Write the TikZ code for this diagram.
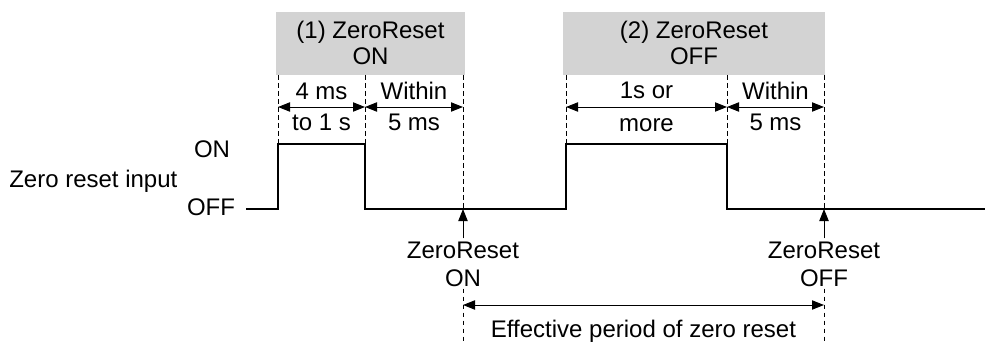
\documentclass[tikz,border=0pt]{standalone}
\usepackage{fontspec}
\setmainfont{Liberation Sans}
\usetikzlibrary{arrows.meta,positioning}
\definecolor{zonegray}{HTML}{D3D3D3}

\tikzset{
  guide/.style={black, line width=0.7pt, dash pattern=on 3.5pt off 2.5pt},
  signal/.style={black, line width=1.5pt, line join=miter},
  span/.style={black, line width=0.7pt,
    {Triangle[length=9pt,width=7pt]}-{Triangle[length=9pt,width=7pt]}},
  upmark/.style={black, line width=0.7pt, -{Triangle[length=9pt,width=7pt]}},
  lbl/.style={font=\fontsize{18}{21}\selectfont, inner sep=0pt, align=center},
  zonelbl/.style={lbl, font=\fontsize{18}{19.5}\selectfont},
}

\begin{document}
\begin{tikzpicture}[x=0.75pt, y=-0.75pt]
  \useasboundingbox (0,0) rectangle (985,342);

  % reference lines
  \coordinate (topline) at (0,75);
  \coordinate (dimline) at (0,107);
  \coordinate (effline) at (0,305);

  % grey zones
  \fill[zonegray] (276,12) rectangle (465,75);
  \fill[zonegray] (563,12) rectangle (825,75);
  \node[zonelbl] (zone1) at (370.5,43) {(1) ZeroReset\\ON};
  \node[zonelbl] (zone2) at (694,43) {(2) ZeroReset\\OFF};

  % signal
  \coordinate (a0) at (246,209);
  \coordinate (a1) at (278,209);
  \coordinate (a2) at (278,144);
  \coordinate (a3) at (365,144);
  \coordinate (a4) at (365,209);
  \coordinate (a5) at (566,209);
  \coordinate (a6) at (566,144);
  \coordinate (a7) at (727,144);
  \coordinate (a8) at (727,209);
  \coordinate (a9) at (985,209);
  \coordinate (onmark) at (463,209);
  \coordinate (offmark) at (824,209);
  \draw[signal] (a0) -- (a1) -- (a2) -- (a3) -- (a4) -- (a5) -- (a6) -- (a7) -- (a8) -- (a9);

  % input labels
  \node[lbl, anchor=base] (hi) at (212,158) {ON};
  \node[lbl, anchor=base] (lo) at (211,215) {OFF};
  \node[lbl, anchor=base west] (inp) at (9,188) {Zero reset input};

  % event labels
  \node[lbl] (onlbl) at (463,264) {ZeroReset\\ON};
  \node[lbl] (offlbl) at (824,264) {ZeroReset\\OFF};
  \draw[upmark] (onlbl.north) ++(0,-3) -- (onmark);
  \draw[upmark] (offlbl.north) ++(0,-3) -- (offmark);

  % guides
  \draw[guide] (a2 |- topline) -- (a2);
  \draw[guide] (a3 |- topline) -- (a3);
  \draw[guide] (a6 |- topline) -- (a6);
  \draw[guide] (a7 |- topline) -- (a7);
  \draw[guide] (onmark |- topline) -- (onmark);
  \draw[guide] (offmark |- topline) -- (offmark);
  \draw[guide] (onlbl.south) ++(0,2) -- (onmark |- 0,342);
  \draw[guide] (offlbl.south) ++(0,2) -- (offmark |- 0,342);

  % durations
  \draw[span] (a2 |- dimline) -- (a3 |- dimline);
  \draw[span] (a3 |- dimline) -- (onmark |- dimline);
  \draw[span] (a6 |- dimline) -- (a7 |- dimline);
  \draw[span] (a7 |- dimline) -- (offmark |- dimline);
  \node[lbl, anchor=base] (d1a) at (321.5,100) {4 ms};
  \node[lbl, anchor=base] (d1b) at (321.5,131) {to 1 s};
  \node[lbl, anchor=base] (d2a) at (414,100) {Within};
  \node[lbl, anchor=base] (d2b) at (414,131) {5 ms};
  \node[lbl, anchor=base] (d3a) at (646.5,99) {1s or};
  \node[lbl, anchor=base] (d3b) at (646.5,132) {more};
  \node[lbl, anchor=base] (d4a) at (775.5,100) {Within};
  \node[lbl, anchor=base] (d4b) at (775.5,131) {5 ms};

  % effective period
  \draw[span] (onmark |- effline) -- (offmark |- effline);
  \node[lbl, anchor=base] (eff) at (643.5,337) {Effective period of zero reset};
\end{tikzpicture}
\end{document}
